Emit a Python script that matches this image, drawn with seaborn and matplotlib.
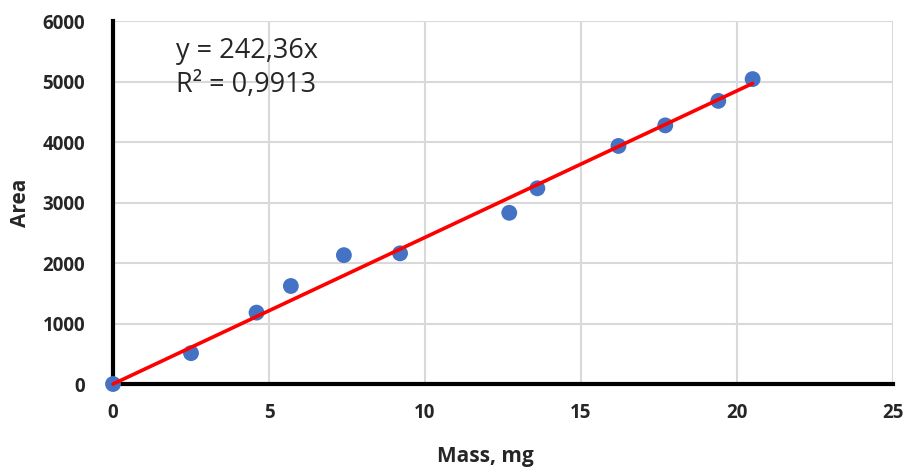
import numpy as np
import pandas as pd
import matplotlib
matplotlib.use("Agg")
import matplotlib.pyplot as plt
import seaborn as sns

# ==========================
# Data
# ==========================

mass = [0, 2.5, 4.6, 5.7, 7.4, 9.2, 12.7, 13.6, 16.2, 17.7, 19.4, 20.5]
area = [0, 510, 1180, 1620, 2130, 2160, 2830, 3235, 3935, 4275, 4680, 5040]

slope = 242.36
r2_text = "0,9913"

df = pd.DataFrame({"Mass": mass, "Area": area})
fit = pd.DataFrame({"Mass": [0, max(mass)]})
fit["Area"] = slope * fit["Mass"]

# ==========================
# Plot
# ==========================

sns.set_style("white")
plt.rcParams["font.family"] = ["Open Sans", "DejaVu Sans"]

fig = plt.figure(figsize=(9.07, 4.67), dpi=100)
ax = fig.add_axes([0.1246, 0.1777, 0.86, 0.7773])

sns.scatterplot(data=df, x="Mass", y="Area", ax=ax, color="#4472C4",
                s=130, edgecolor="none", zorder=5, clip_on=False)
sns.lineplot(data=fit, x="Mass", y="Area", ax=ax, color="#FF0000",
             linewidth=2.6, zorder=6, clip_on=False)

ax.set_xlim(0, 25)
ax.set_ylim(0, 6000)
ax.set_xticks(range(0, 26, 5))
ax.set_yticks(range(0, 6001, 1000))
ax.grid(True, color="#d9d9d9", linewidth=1.5)
ax.set_axisbelow(True)

for side in ["top", "right"]:
    ax.spines[side].set_visible(False)
for side in ["left", "bottom"]:
    ax.spines[side].set_color("black")
    ax.spines[side].set_linewidth(3)

ax.tick_params(axis="both", length=0, labelsize=13.5)
ax.tick_params(axis="x", pad=14)
ax.tick_params(axis="y", pad=20)
for lbl in ax.get_xticklabels() + ax.get_yticklabels():
    lbl.set_fontweight("bold")

ax.set_xlabel("Mass, mg", fontsize=15, fontweight="bold")
ax.set_ylabel("Area", fontsize=15, fontweight="bold")
ax.xaxis.set_label_coords(0.477, -0.17)
ax.yaxis.set_label_coords(-0.105, 0.5)

ax.text(0.081, 0.955, f"y = {str(slope).replace('.', ',')}x\nR² = {r2_text}",
        transform=ax.transAxes, fontsize=19.5, va="top", ha="left",
        linespacing=1.25)

fig.savefig("out.png", dpi=100)
